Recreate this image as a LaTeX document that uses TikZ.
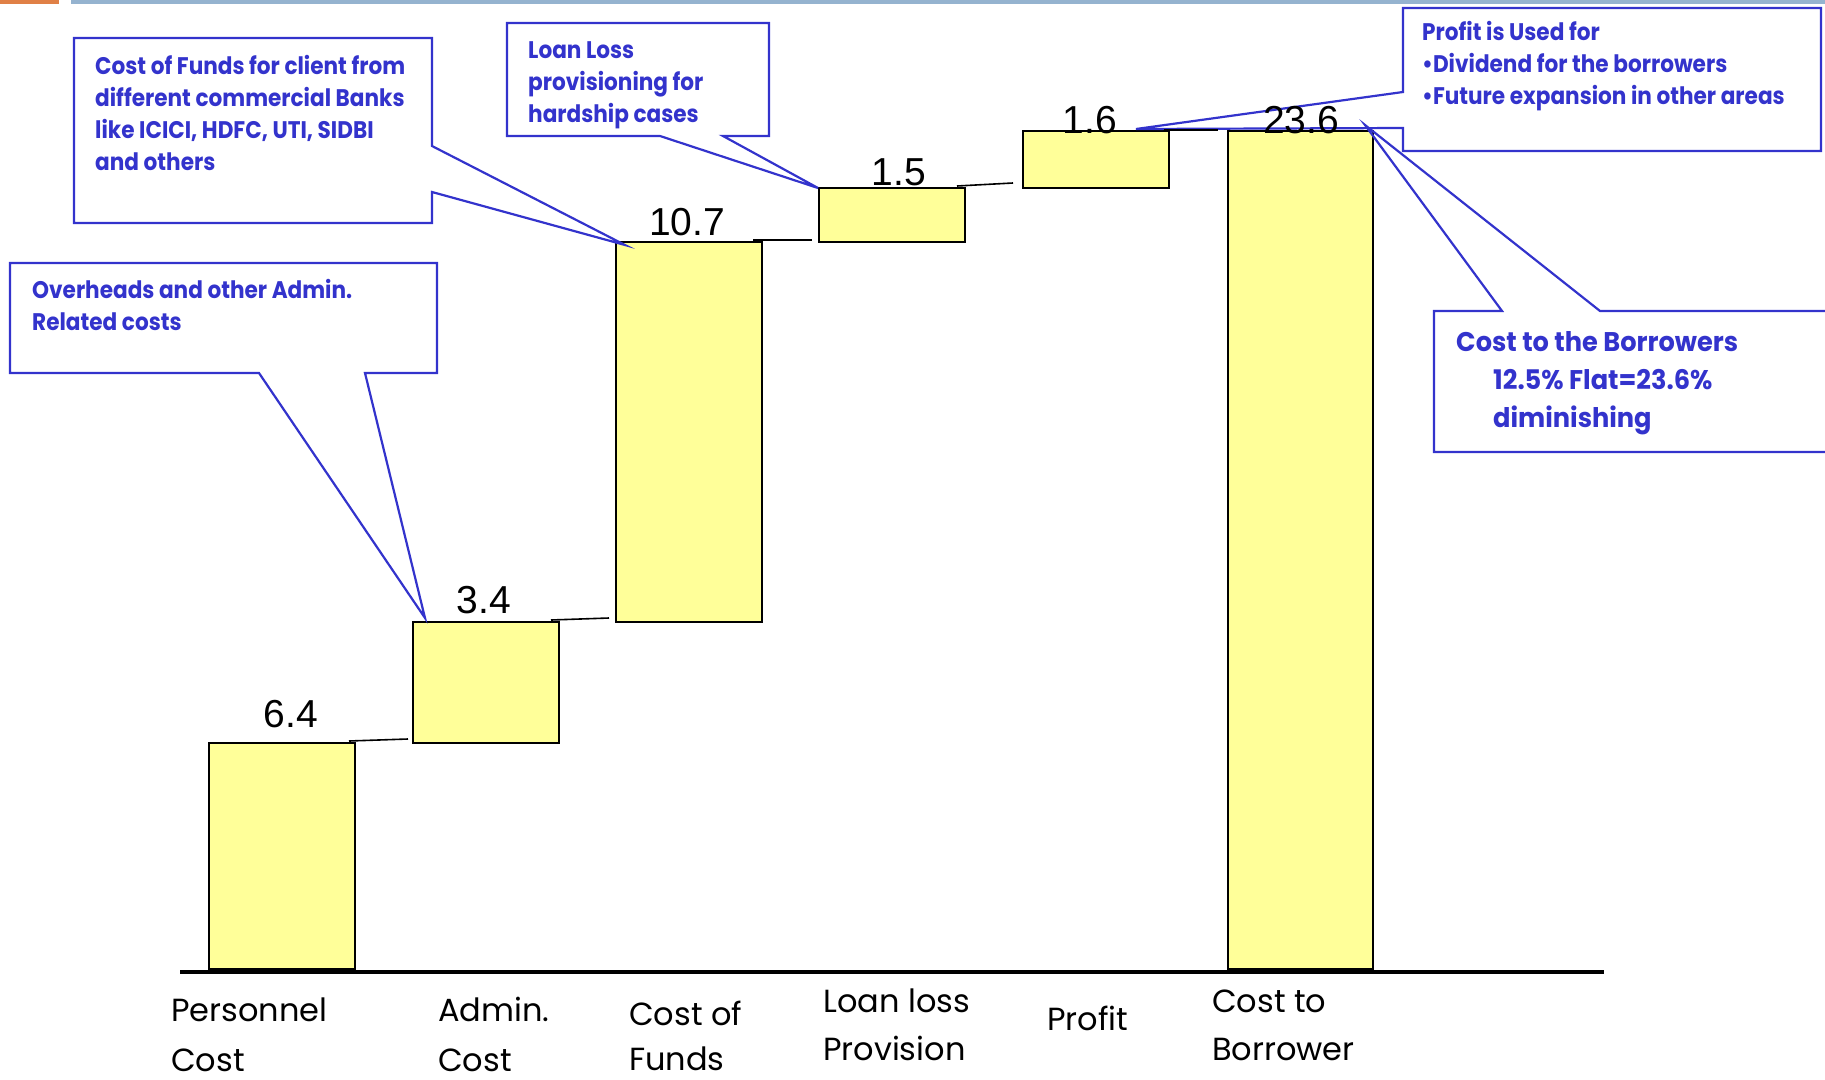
\documentclass[tikz,border=0pt]{standalone}
\usepackage{fontspec}
\setmainfont{Liberation Sans}
\newfontfamily\geo{Poppins}
\newfontfamily\geob[FakeStretch=0.9]{Poppins}
\newfontfamily\geod[FakeStretch=0.95]{Poppins}
\usetikzlibrary{calc}
\definecolor{cblue}{RGB}{51,51,204}
\definecolor{barfill}{RGB}{255,255,153}
\definecolor{topor}{RGB}{224,128,70}
\definecolor{topbl}{RGB}{149,179,207}
\begin{document}
\begin{tikzpicture}[x=1pt,y=-1pt,
  bar/.style={draw=black,line width=2pt,fill=barfill,inner sep=0pt,outer sep=0pt,anchor=north west,minimum width=146pt},
  val/.style={font=\fontsize{39}{39}\selectfont,anchor=base,inner sep=0pt},
  call/.style={draw=cblue,line width=2.2pt,line join=miter},
  ctext/.style={text=cblue,font=\geob\bfseries\fontsize{24}{24}\selectfont,anchor=base west,inner sep=0pt},
  dtext/.style={text=cblue,font=\geod\bfseries\fontsize{27}{27}\selectfont,anchor=base west,inner sep=0pt},
  xlab/.style={font=\geo\fontsize{32}{32}\selectfont,anchor=base west,inner sep=0pt,text depth=0pt},
  link/.style={draw=black,line width=1.6pt}]
\useasboundingbox (0,0) rectangle (1825,1079);
\clip (0,0) rectangle (1825,1079);
% top rules
\fill[topor] (0,0) rectangle (59,4);
\fill[topbl] (71,0) rectangle (1825,4);
% bars
\node[bar,minimum height=226pt] (b1) at (209,743) {};
\node[bar,minimum height=121pt] (b2) at (413,622) {};
\node[bar,minimum height=380pt] (b3) at (616,242) {};
\node[bar,minimum height=54pt]  (b4) at (819,188) {};
\node[bar,minimum height=57pt]  (b5) at (1023,131) {};
\node[bar,minimum height=838pt,minimum width=145pt] (b6) at (1228,131) {};
% axis
\coordinate (axl) at (180,972);
\coordinate (axr) at (1604,972);
\draw[line width=4.7pt] (axl) -- (axr);
% callouts
\coordinate (tipA) at (625,245);
\coordinate (tipB) at (818,188);
\coordinate (tipC) at (1136,129);
\coordinate (tipD) at (1365,125);
\coordinate (tipE) at (425,618);
\draw[call] (74,38) -- (432,38) -- (432,146) -- (tipA) -- (432,192) -- (432,223) -- (74,223) -- cycle;
\draw[call] (507,23) -- (769,23) -- (769,136) -- (723,136) -- (tipB) -- (660,136) -- (507,136) -- cycle;
\draw[call] (1403,8) -- (1821,8) -- (1821,151) -- (1403,151) -- (1403,128) -- (tipC) -- (1403,92) -- cycle;
\draw[call] (1830,452) -- (1434,452) -- (1434,311) -- (1502,311) -- (tipD) -- (1600,311) -- (1830,311);
\draw[call] (10,263) -- (437,263) -- (437,373) -- (365,373) -- (tipE) -- (259,373) -- (10,373) -- cycle;
% links between bars
\draw[link] ($(b1.north east)+(-6,-2)$) -- ($(b2.south west)+(-5,-4)$);
\draw[link] ($(b2.north east)+(-8,-2)$) -- ($(b3.south west)+(-7,-4)$);
\draw[link] ($(b3.north east)+(-9,-2)$) -- ($(b4.south west)+(-7,-2)$);
\draw[link] ($(b4.north east)+(-8,-2)$) -- ($(b5.south west)+(-10,-5)$);
\draw[link] ($(b5.north east)+(-5,-1)$) -- ($(b6.north west)+(-10,-1)$);
% values
\node[val] (v1) at (291,727) {6.4};
\node[val] (v2) at (484,613) {3.4};
\node[val] (v3) at (687,235) {10.7};
\node[val] (v4) at (899,185) {1.5};
\node[val] (v5) at (1090,133) {1.6};
\node[val] (v6) at (1301,133) {23.6};
% callout texts
\node[ctext] (a1) at (95,74) {Cost of Funds for client from};
\node[ctext] (a2) at (95,106) {different commercial Banks};
\node[ctext] (a3) at (95,138) {like ICICI, HDFC, UTI, SIDBI};
\node[ctext] (a4) at (95,170) {and others};
\node[ctext] (l1) at (528,58) {Loan Loss};
\node[ctext] (l2) at (528,90) {provisioning for};
\node[ctext] (l3) at (528,122) {hardship cases};
\node[ctext] (p1) at (1422,40) {Profit is Used for};
\node[ctext] (p2) at (1422,72) {\textbullet Dividend for the borrowers};
\node[ctext] (p3) at (1422,104) {\textbullet Future expansion in other areas};
\node[dtext] (d1) at (1456,351) {Cost to the Borrowers};
\node[dtext] (d2) at (1493,389) {12.5\% Flat=23.6\%};
\node[dtext] (d3) at (1493,427) {diminishing};
\node[ctext] (o1) at (32,298) {Overheads and other Admin.};
\node[ctext] (o2) at (32,330) {Related costs};
% axis labels
\node[xlab] (x1a) at (171,1021) {Personnel};
\node[xlab] (x1b) at (171,1071) {Cost};
\node[xlab] (x2a) at (438,1021) {Admin.};
\node[xlab] (x2b) at (438,1071) {Cost};
\node[xlab] (x3a) at (629,1025) {Cost of};
\node[xlab] (x3b) at (629,1070) {Funds};
\node[xlab] (x4a) at (823,1012) {Loan loss};
\node[xlab] (x4b) at (823,1060) {Provision};
\node[xlab] (x5) at (1047,1030) {Profit};
\node[xlab] (x6a) at (1212,1012) {Cost to};
\node[xlab] (x6b) at (1212,1060) {Borrower};
\end{tikzpicture}
\end{document}
